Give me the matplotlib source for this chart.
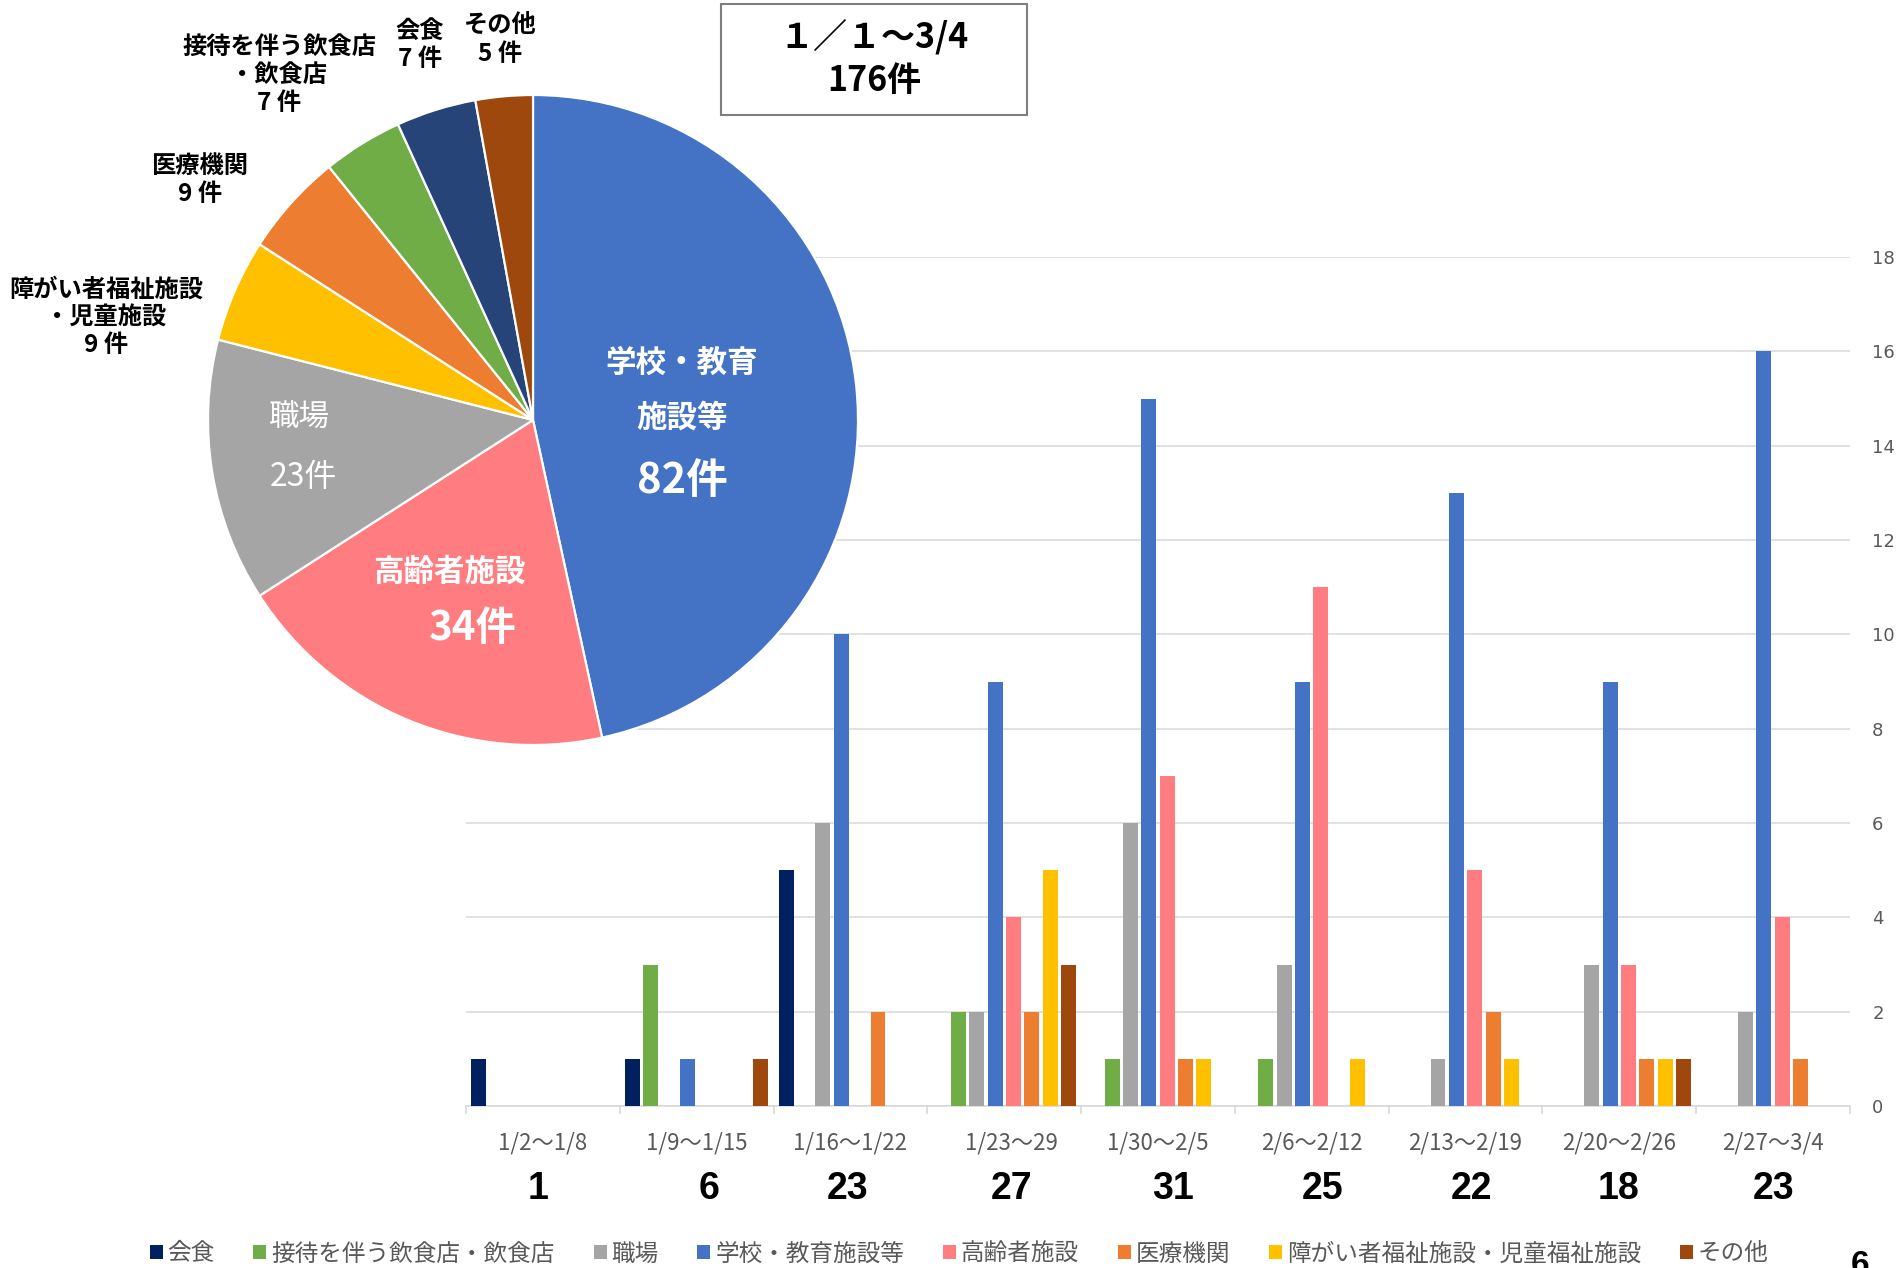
import matplotlib
matplotlib.use('Agg')
import matplotlib.pyplot as plt
from matplotlib.patches import Patch, Rectangle
from matplotlib.transforms import blended_transform_factory
import numpy as np

plt.rcParams['font.family'] = ['Noto Sans CJK JP', 'DejaVu Sans']

# ---------------- data ----------------
weeks = ['1/2〜1/8', '1/9〜1/15', '1/16〜1/22', '1/23〜29', '1/30〜2/5',
         '2/6〜2/12', '2/13〜2/19', '2/20〜2/26', '2/27〜3/4']
week_totals = [1, 6, 23, 27, 31, 25, 22, 18, 23]

series_names = ['会食', '接待を伴う飲食店・飲食店', '職場', '学校・教育施設等',
                '高齢者施設', '医療機関', '障がい者福祉施設・児童福祉施設', 'その他']
series_colors = ['#002060', '#70AD47', '#A5A5A5', '#4472C4',
                 '#FF7C80', '#ED7D31', '#FFC000', '#9E480E']

kaishoku = [1, 1, 5, 0, 0, 0, 0, 0, 0]
settai = [0, 3, 0, 2, 1, 1, 0, 0, 0]
shokuba = [0, 0, 6, 2, 6, 3, 1, 3, 2]
gakko = [0, 1, 10, 9, 15, 9, 13, 9, 16]
koreisha = [0, 0, 0, 4, 7, 11, 5, 3, 4]
iryo = [0, 0, 2, 2, 1, 0, 2, 1, 1]
shogai = [0, 0, 0, 5, 1, 1, 1, 1, 0]
sonota = [0, 1, 0, 3, 0, 0, 0, 1, 0]
series_values = [kaishoku, settai, shokuba, gakko, koreisha, iryo, shogai, sonota]

pie_labels = ['学校・教育施設等', '高齢者施設', '職場', '障がい者福祉施設・児童施設',
              '医療機関', '接待を伴う飲食店・飲食店', '会食', 'その他']
pie_values = [82, 34, 23, 9, 9, 7, 7, 5]
pie_colors = ['#4472C4', '#FF7C80', '#A5A5A5', '#FFC000',
              '#ED7D31', '#70AD47', '#264478', '#9E480E']

period_label = '１／１～3/4'
period_total = '176件'

# ---------------- figure ----------------
W, H = 1899, 1268
fig = plt.figure(figsize=(W / 100, H / 100), dpi=100)


def ftext(x, y, s, **kw):
    kw.setdefault('ha', 'center')
    kw.setdefault('va', 'center')
    return fig.text(x / W, 1 - y / H, s, **kw)


# bar chart axes
ax = fig.add_axes([466 / W, 1 - 1106 / H, (1850 - 466) / W, (1106 - 257) / H])
x = np.arange(len(weeks))
pitch = 0.1193
bw = 0.097
for j, (vals, col) in enumerate(zip(series_values, series_colors)):
    ax.bar(x + (j - 3.5) * pitch, vals, width=bw, color=col, linewidth=0, zorder=3)

ax.set_xlim(-0.5, len(weeks) - 0.5)
ax.set_ylim(0, 18)
ax.set_yticks(range(0, 19, 2))
ax.yaxis.tick_right()
ax.tick_params(axis='y', length=0, pad=16, labelsize=13, labelcolor='#595959')
for lab in ax.get_yticklabels():
    lab.set_fontfamily('DejaVu Sans')
ax.grid(axis='y', color='#D9D9D9', linewidth=1.1, zorder=0)
ax.set_axisbelow(True)
for s in ['top', 'left', 'right']:
    ax.spines[s].set_visible(False)
ax.spines['bottom'].set_color('#D9D9D9')
ax.spines['bottom'].set_linewidth(1.2)
ax.set_xticks([])
ax.set_xticks(np.arange(-0.5, len(weeks), 1), minor=True)
ax.tick_params(axis='x', which='minor', length=6, color='#D9D9D9', width=1.2)
ax.patch.set_visible(False)

# label placement nudges (layout only, in category units)
label_nudge = [0.0, 0.0, 0.0, 0.047, 0.0, 0.0, 0.0, 0.0, 0.0]
total_nudge = [-0.03, 0.08, -0.016, 0.047, 0.10, 0.07, 0.04, -0.008, 0.0]

tr = blended_transform_factory(ax.transData, ax.transAxes)
for i, (wk, tot) in enumerate(zip(weeks, week_totals)):
    ax.text(i + label_nudge[i], -0.044, wk, transform=tr, ha='center', va='center',
            fontsize=16, color='#595959')
    ax.text(i + total_nudge[i], -0.098, str(tot), transform=tr, ha='center',
            va='center', fontsize=27, fontweight='bold', color='black',
            family=['Liberation Sans', 'DejaVu Sans'])

# pie axes
R = 325
cx, cy = 533, 420
pax = fig.add_axes([(cx - R) / W, 1 - (cy + R) / H, 2 * R / W, 2 * R / H])
pax.pie(pie_values, colors=pie_colors, startangle=90, counterclock=False,
        wedgeprops=dict(edgecolor='white', linewidth=1.6))
pax.set_xlim(-1, 1)
pax.set_ylim(-1, 1)
pax.axis('off')

# pie labels (inside)
ftext(682, 363, '学校・教育', fontsize=22, fontweight='bold', color='white')
ftext(682, 418, '施設等', fontsize=22, fontweight='bold', color='white')
ftext(682, 481, f'{pie_values[0]}件', fontsize=30, fontweight='bold', color='white')
ftext(449, 572, '高齢者施設', fontsize=22, fontweight='bold', color='white')
ftext(472, 629, f'{pie_values[1]}件', fontsize=29, fontweight='bold', color='white')
ftext(299, 418, '職場', fontsize=22, color='white')
ftext(303, 477, f'{pie_values[2]}件', fontsize=23, color='white')

# pie labels (outside)
ol = dict(fontsize=17.5, fontweight='bold', color='black', linespacing=1.2)
ftext(106, 317, f'障がい者福祉施設\n・児童施設\n{pie_values[3]} 件', **ol)
ftext(200, 180, f'医療機関\n{pie_values[4]} 件', **ol)
ftext(279, 75, f'接待を伴う飲食店\n・飲食店\n{pie_values[5]} 件', **ol)
ftext(420, 45, f'会食\n{pie_values[6]} 件', **ol)
ftext(500, 40, f'その他\n{pie_values[7]} 件', **ol)

# title box
fig.add_artist(Rectangle((721 / W, 1 - 115 / H), (1027 - 721) / W, (115 - 4) / H,
                         transform=fig.transFigure, facecolor='white',
                         edgecolor='#7F7F7F', linewidth=1.5))
ftext(874, 37, period_label, fontsize=24.5, fontweight='bold')
ftext(874, 80, period_total, fontsize=24.5, fontweight='bold')

# legend
handles = [Patch(facecolor=c, edgecolor='none') for c in series_colors]
fig.legend(handles, series_names, loc='center', bbox_to_anchor=(0.505, 1 - 1254 / H),
           ncol=8, frameon=False, fontsize=17, handlelength=0.55, handleheight=0.55,
           handletextpad=0.2, columnspacing=1.65, labelcolor='#595959',
           borderaxespad=0, borderpad=0)

# page number
ftext(1860, 1250, '6', fontsize=24, fontweight='bold', va='top',
      family=['Liberation Sans', 'DejaVu Sans'])

fig.savefig('out.png', dpi=100)
